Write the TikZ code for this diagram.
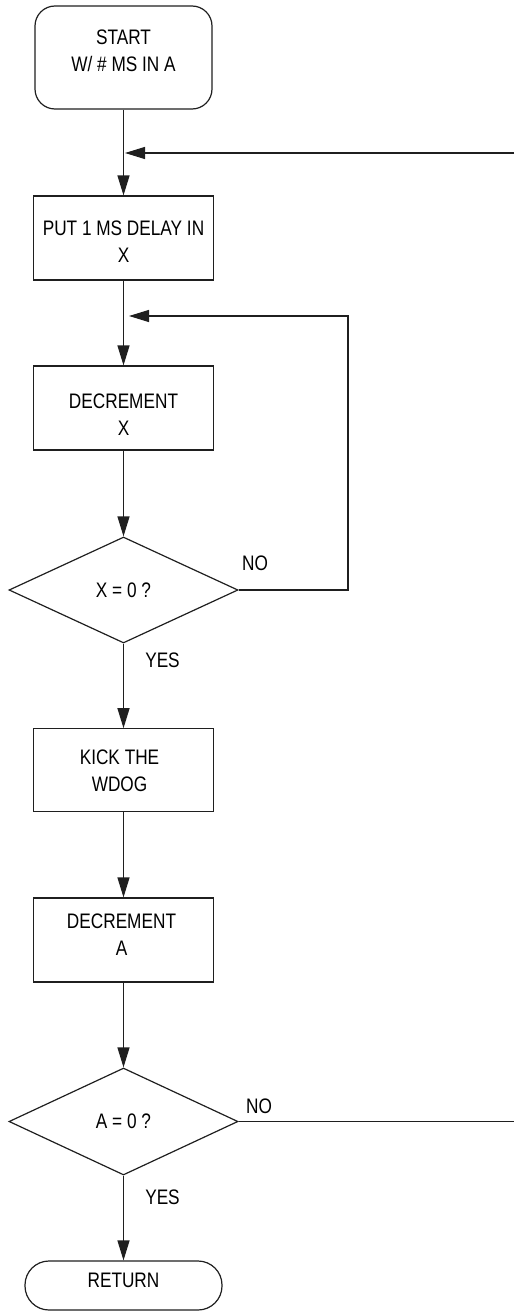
\documentclass[tikz,border=0pt]{standalone}
\usepackage{fontspec}
\setmainfont{Liberation Sans}[FakeStretch=0.82]
\usetikzlibrary{arrows.meta,shapes.geometric}
\newcommand{\bxt}[4]{\parbox[c][#2][c]{#1}{\centering\vspace*{#3}#4\par}}
\begin{document}
\begin{tikzpicture}[x=1pt,y=-1pt,
  font=\fontsize{21}{27}\selectfont,
  flowbox/.style={draw=black!88,line width=1.2pt,inner sep=0pt,rectangle},
  termbox/.style={flowbox,rounded corners=20pt},
  stadium/.style={flowbox,rounded corners=24pt},
  decision/.style={draw=black!88,line width=1.2pt,diamond,inner sep=0pt,
    minimum width=229pt,minimum height=106pt,align=center},
  lbl/.style={inner sep=0pt},
  conn/.style={draw=black!88,line width=1.25pt},
  flow/.style={conn,-{Triangle[length=20pt,width=12pt]}}
]
\useasboundingbox (0,0) rectangle (514,1311);

% nodes
\node[termbox] (start) at (123.5,57.5) {\bxt{177pt}{103pt}{-12.8pt}{START\\W/ \# MS IN A}};
\node[flowbox] (put) at (123.5,238) {\bxt{180.5pt}{84pt}{6.6pt}{PUT 1 MS DELAY IN\\X}};
\node[flowbox] (decx) at (123.5,408) {\bxt{180.5pt}{84pt}{13pt}{DECREMENT\\X}};
\node[decision] (dx) at (123.5,590) {X = 0 ?};
\node[flowbox] (kick) at (123.5,770.3) {\bxt{180.5pt}{83pt}{0pt}{\hspace*{-8pt}KICK THE\\\hspace*{-8pt}WDOG}};
\node[flowbox] (deca) at (123.5,940) {\bxt{180.5pt}{84pt}{-11pt}{\hspace*{-4pt}DECREMENT\\\hspace*{-4pt}A}};
\node[decision,minimum height=107pt] (da) at (123.5,1121.5) {A = 0 ?};
\node[stadium] (ret) at (123.5,1285.5) {\bxt{197pt}{49pt}{-10pt}{RETURN}};

% labels
\node[lbl] (nox) at (255,563) {NO};
\node[lbl] (yesx) at (162.5,660) {YES};
\node[lbl] (noa) at (259,1106) {NO};
\node[lbl] (yesa) at (162.5,1197) {YES};

% coordinates
\coordinate (j1tip) at (125,153);
\coordinate (edge1) at (514,153);
\coordinate (j2tip) at (129,316);
\coordinate (rx) at (348,316);
\coordinate (edge2) at (514,1121.5);

% connectors
\draw[flow] (start.south) -- (put.north);
\draw[flow] (edge1) -- (j1tip);
\draw[flow] (put.south) -- (decx.north);
\draw[flow] (dx.east) -| (rx) -- (j2tip);
\draw[flow] (decx.south) -- (dx.north);
\draw[flow] (dx.south) -- (kick.north);
\draw[flow] (kick.south) -- (deca.north);
\draw[flow] (deca.south) -- (da.north);
\draw[conn] (da.east) -- (edge2);
\draw[flow] (da.south) -- (ret.north);
\end{tikzpicture}
\end{document}
